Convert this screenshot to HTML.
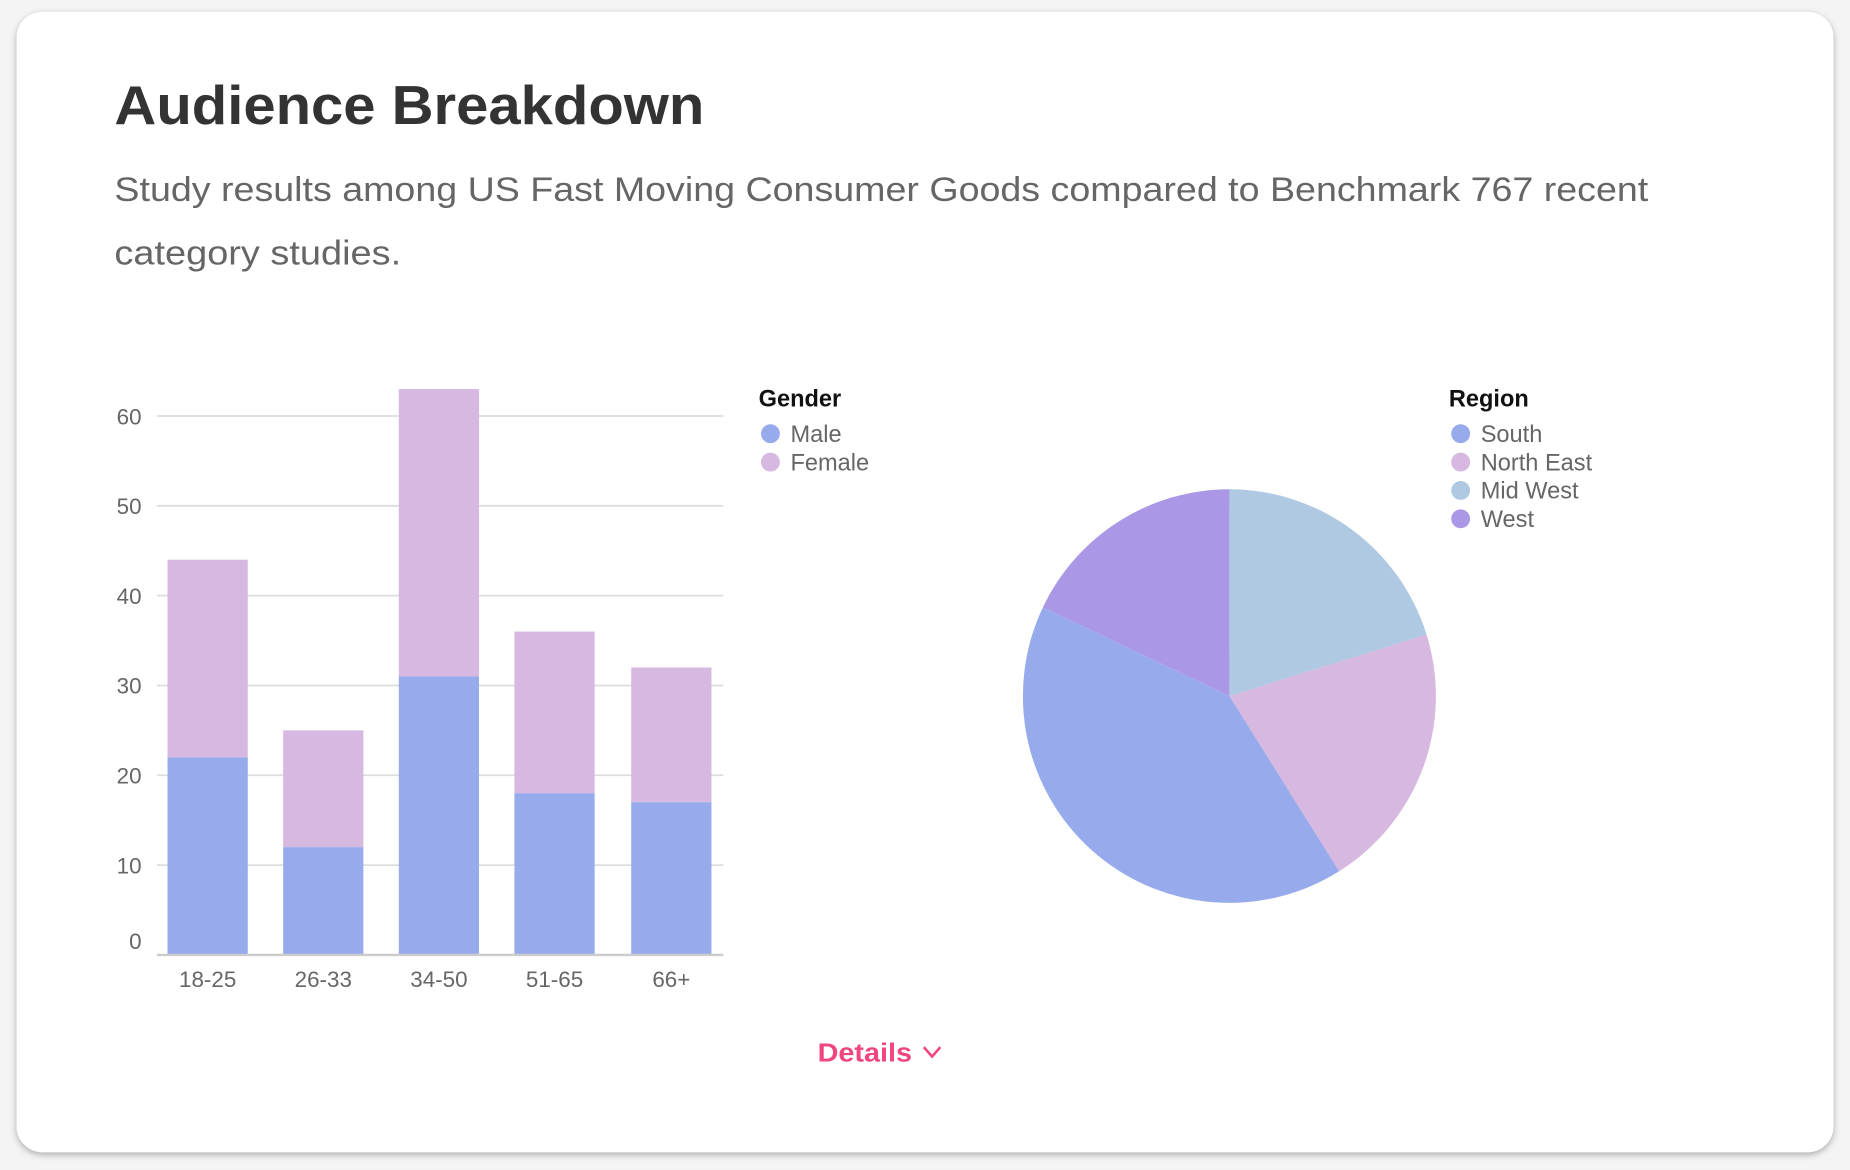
<!DOCTYPE html>
<html><head><meta charset="utf-8"><style>
html,body{margin:0;padding:0;background:#fff;width:1850px;height:1170px;overflow:hidden}
svg{display:block}
text{font-family:"Liberation Sans","DejaVu Sans",sans-serif}
</style></head><body>
<svg width="1850" height="1170" viewBox="0 0 1568 990" preserveAspectRatio="none" xmlns="http://www.w3.org/2000/svg">
<defs><filter id="sh" x="-5%" y="-5%" width="110%" height="110%"><feDropShadow dx="0" dy="2" stdDeviation="3" flood-color="#000" flood-opacity="0.3"/></filter></defs>
<rect x="0" y="0" width="1568" height="990" fill="#f4f4f4"/>
<rect x="14" y="10" width="1540" height="965" rx="22" fill="#fff" filter="url(#sh)"/>
<text x="97" y="105" font-size="46" font-weight="bold" fill="#333" textLength="500" lengthAdjust="spacingAndGlyphs">Audience Breakdown</text>
<text x="97" y="170" font-size="29" fill="#666" textLength="1300" lengthAdjust="spacingAndGlyphs">Study results among US Fast Moving Consumer Goods compared to Benchmark 767 recent</text>
<text x="97" y="224" font-size="29" fill="#666" textLength="243" lengthAdjust="spacingAndGlyphs">category studies.</text>
<g stroke="#ddd" stroke-width="1.5">
<line x1="133" y1="352" x2="613" y2="352"/><line x1="133" y1="428" x2="613" y2="428"/><line x1="133" y1="504" x2="613" y2="504"/><line x1="133" y1="580" x2="613" y2="580"/><line x1="133" y1="656" x2="613" y2="656"/><line x1="133" y1="732" x2="613" y2="732"/><line x1="133" y1="808" x2="613" y2="808"/>
</g>
<g font-size="19" fill="#666" text-anchor="end">
<text x="120" y="359">60</text><text x="120" y="435">50</text><text x="120" y="511">40</text><text x="120" y="587">30</text><text x="120" y="663">20</text><text x="120" y="739">10</text><text x="120" y="803">0</text>
</g>
<g>
<rect x="142" y="473.6" width="68" height="167.2" fill="#d6b8e0"/><rect x="142" y="640.8" width="68" height="167.2" fill="#97abec"/>
<rect x="240" y="618" width="68" height="98.8" fill="#d6b8e0"/><rect x="240" y="716.8" width="68" height="91.2" fill="#97abec"/>
<rect x="338" y="329.2" width="68" height="243.2" fill="#d6b8e0"/><rect x="338" y="572.4" width="68" height="235.6" fill="#97abec"/>
<rect x="436" y="534.4" width="68" height="136.8" fill="#d6b8e0"/><rect x="436" y="671.2" width="68" height="136.8" fill="#97abec"/>
<rect x="535" y="564.8" width="68" height="114" fill="#d6b8e0"/><rect x="535" y="678.8" width="68" height="129.2" fill="#97abec"/>
</g>
<line x1="133" y1="808" x2="613" y2="808" stroke="#ccc" stroke-width="2"/>
<g font-size="19" fill="#666" text-anchor="middle">
<text x="176" y="835">18-25</text><text x="274" y="835">26-33</text><text x="372" y="835">34-50</text><text x="470" y="835">51-65</text><text x="569" y="835">66+</text>
</g>
<text x="643" y="344" font-size="20" font-weight="bold" fill="#111">Gender</text>
<circle cx="653" cy="367" r="8" fill="#97abec"/><text x="670" y="374" font-size="20" fill="#666">Male</text>
<circle cx="653" cy="391" r="8" fill="#d6b8e0"/><text x="670" y="398" font-size="20" fill="#666">Female</text>
<path d="M1042 589 L1042 414 A175 175 0 0 1 1209.1 536.95 Z" fill="#b0c9e2"/>
<path d="M1042 589 L1209.1 536.95 A175 175 0 0 1 1135 737.2 Z" fill="#d6b8e0"/>
<path d="M1042 589 L1135 737.2 A175 175 0 0 1 883.9 513.9 Z" fill="#97abec"/>
<path d="M1042 589 L883.9 513.9 A175 175 0 0 1 1042 414 Z" fill="#aa98e6"/>
<text x="1228" y="344" font-size="20" font-weight="bold" fill="#111">Region</text>
<circle cx="1238" cy="367" r="8" fill="#97abec"/><text x="1255" y="374" font-size="20" fill="#666">South</text>
<circle cx="1238" cy="391" r="8" fill="#d6b8e0"/><text x="1255" y="398" font-size="20" fill="#666">North East</text>
<circle cx="1238" cy="415" r="8" fill="#b0c9e2"/><text x="1255" y="422" font-size="20" fill="#666">Mid West</text>
<circle cx="1238" cy="439" r="8" fill="#aa98e6"/><text x="1255" y="446" font-size="20" fill="#666">West</text>
<text x="693" y="898" font-size="22" font-weight="bold" fill="#f0457d" textLength="80" lengthAdjust="spacingAndGlyphs">Details</text>
<path d="M783 886 L790 894 L797 886" fill="none" stroke="#f0457d" stroke-width="2.2"/>
</svg>
</body></html>
